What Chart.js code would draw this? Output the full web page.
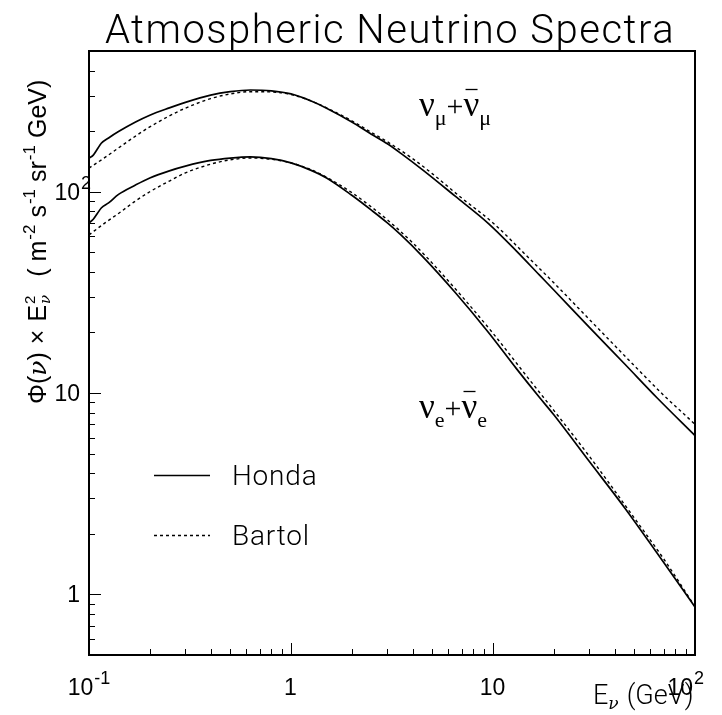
<!DOCTYPE html>
<html>
<head>
<meta charset="utf-8">
<script src="https://cdn.jsdelivr.net/npm/chart.js@4"></script>
<style>
  body { margin: 0; background: #fff; }
  canvas { display: block; }
</style>
</head>
<body>
<canvas id="c" width="722" height="715"></canvas>
<script>
// energies (GeV) and E^2-weighted fluxes
const hondaE = [0.1, 0.105, 0.11, 0.115, 0.125, 0.14, 0.17, 0.2, 0.25, 0.3, 0.4, 0.5, 0.63, 0.8, 1.0, 1.25, 1.5, 2.0, 2.5, 3.0, 3.5, 4.5, 6.5, 9.5, 13, 17, 20, 30, 45, 65, 100];
const hondaNuMu = [147, 152, 163, 174, 185, 199, 222, 240, 261, 278, 302, 314, 320, 317, 306, 283, 260, 222, 193, 173, 155, 128, 95, 69.5, 51, 38.5, 32.5, 21.2, 13.9, 9.45, 6.15];
const hondaNuE = [70, 73, 78, 83, 88, 97, 108, 117, 127, 134, 143, 147, 149, 146, 139, 128, 117, 96, 81, 70, 61, 47.5, 31.6, 20.0, 13.3, 9.5, 7.8, 4.57, 2.68, 1.6, 0.865];

const bartolE = [0.1, 0.12, 0.14, 0.17, 0.2, 0.25, 0.3, 0.4, 0.5, 0.63, 0.8, 1.0, 1.25, 1.5, 2.0, 2.5, 3.0, 4.0, 5.0, 7.0, 10, 15, 20, 30, 50, 70, 100];
const bartolNuMu = [131, 148, 165, 189, 210, 238, 260, 290, 306, 314, 313, 304, 283, 261, 225, 197, 177, 146, 123, 93, 70, 47, 35.3, 23.2, 13.7, 9.75, 7.0];
const bartolNuE = [61, 70, 78, 90, 100, 113, 124, 137, 144, 147, 145, 139, 129, 118, 99, 84, 72.5, 55.8, 44.2, 30.3, 19.8, 11.8, 8.2, 4.85, 2.4, 1.5, 0.87];

const xTicks = [0.1, 1, 10, 100];
const xTickText = [['10', '-1'], ['1', ''], ['10', ''], ['10', '2']];
const yTicks = [1, 10, 100];
const yTickText = [['1', ''], ['10', ''], ['10', '2']];

const SANS = '"Liberation Sans", Arial, sans-serif';
const THIN = 'Roboto, "Open Sans", sans-serif';
const SERIF = '"Liberation Serif", "Times New Roman", serif';
const GREEK = '"DejaVu Serif", serif';

function pts(xs, ys) {
    return xs.map((x, i) => ({ x: x, y: ys[i] }));
}

// draws a list of text runs left to right, returns the end x
function drawRuns(ctx, runs, x, y) {
    runs.forEach(r => {
        ctx.font = r.font;
        ctx.fillText(r.t, x, y + (r.dy || 0));
        if (!r.stay) x += ctx.measureText(r.t).width + (r.gap || 0);
    });
    return x;
}

function runsWidth(ctx, runs) {
    let w = 0;
    runs.forEach(r => {
        ctx.font = r.font;
        if (!r.stay) w += ctx.measureText(r.t).width + (r.gap || 0);
    });
    return w;
}

function powRuns(base, exp) {
    const runs = [{ t: base, font: '23px ' + SANS, gap: 1 }];
    if (exp) runs.push({ t: exp, font: '18px ' + SANS, dy: -11 });
    return runs;
}

function nuLabel(ctx, flavour, x, y) {
    let e = drawRuns(ctx, [
        { t: 'ν', font: '35px ' + SERIF },
        { t: flavour, font: '22px ' + SERIF, dy: 9 },
        { t: '+', font: '30px ' + SERIF }
    ], x, y);
    ctx.beginPath();
    ctx.moveTo(e + 2, y - 26.5);
    ctx.lineTo(e + 14, y - 26.5);
    ctx.stroke();
    drawRuns(ctx, [
        { t: 'ν', font: '35px ' + SERIF },
        { t: flavour, font: '22px ' + SERIF, dy: 9 }
    ], e, y);
}

const frame = {
    id: 'frame',
    afterDraw(chart) {
        const ctx = chart.ctx;
        const a = chart.chartArea;
        const sx = chart.scales.x;
        const sy = chart.scales.y;
        ctx.save();
        ctx.strokeStyle = '#000';
        ctx.fillStyle = '#000';
        ctx.lineWidth = 2;
        ctx.strokeRect(a.left, a.top, a.right - a.left, a.bottom - a.top);

        // inward tick marks
        ctx.lineWidth = 1;
        ctx.beginPath();
        [0.1, 1, 10].forEach(d => {
            for (let m = 1; m <= 9; m++) {
                const px = Math.round(sx.getPixelForValue(m * d)) + 0.5;
                const len = m === 1 ? 12 : 6;
                ctx.moveTo(px, a.bottom);
                ctx.lineTo(px, a.bottom - len);
            }
        });
        [0.1, 1, 10, 100].forEach(d => {
            for (let m = 1; m <= 9; m++) {
                const v = m * d;
                if (v < 0.5 || v > 500) continue;
                const py = Math.round(sy.getPixelForValue(v)) + 0.5;
                const len = m === 1 ? 12 : 6;
                ctx.moveTo(a.left, py);
                ctx.lineTo(a.left + len, py);
            }
        });
        ctx.stroke();

        // tick labels
        ctx.textBaseline = 'alphabetic';
        ctx.textAlign = 'left';
        xTicks.forEach((v, i) => {
            const runs = powRuns(xTickText[i][0], xTickText[i][1]);
            const w = runsWidth(ctx, runs);
            let x0 = sx.getPixelForValue(v) - w / 2;
            if (x0 + w > 704) x0 = 704 - w;
            drawRuns(ctx, runs, x0, 695);
        });
        yTicks.forEach((v, i) => {
            ctx.font = '23px ' + SANS;
            const wb = ctx.measureText(yTickText[i][0]).width;
            drawRuns(ctx, powRuns(yTickText[i][0], yTickText[i][1]), 80 - wb, sy.getPixelForValue(v) + 8);
        });

        // title
        ctx.font = '300 40px ' + THIN;
        ctx.letterSpacing = '1.5px';
        ctx.textAlign = 'center';
        ctx.fillText('Atmospheric Neutrino Spectra', 390, 43);
        ctx.textAlign = 'left';
        ctx.letterSpacing = '0px';

        // x axis title
        drawRuns(ctx, [
            { t: 'E', font: '300 27px ' + THIN },
            { t: 'ν', font: 'italic 17px ' + GREEK, dy: 5, gap: 8 },
            { t: '(GeV)', font: '300 27px ' + THIN }
        ], 593, 704);

        // y axis title, rotated
        ctx.save();
        ctx.translate(46, 404);
        ctx.rotate(-Math.PI / 2);
        drawRuns(ctx, [
            { t: 'Φ(', font: '25px ' + SANS },
            { t: 'ν', font: 'italic 25px ' + GREEK },
            { t: ')', font: '25px ' + SANS, gap: 8 },
            { t: '×', font: '25px ' + SANS, gap: 8 },
            { t: 'E', font: '25px ' + SANS, gap: 1 },
            { t: '2', font: '15px ' + SANS, dy: -11, stay: true },
            { t: 'ν', font: 'italic 15px ' + GREEK, dy: 4, gap: 18 },
            { t: '( m', font: '25px ' + SANS, gap: 1 },
            { t: '-2', font: '17px ' + SANS, dy: -11, gap: 7 },
            { t: 's', font: '25px ' + SANS, gap: 1 },
            { t: '-1', font: '17px ' + SANS, dy: -11, gap: 7 },
            { t: 'sr', font: '25px ' + SANS, gap: 1 },
            { t: '-1', font: '17px ' + SANS, dy: -11, gap: 7 },
            { t: 'GeV)', font: '25px ' + SANS }
        ], 0, 0);
        ctx.restore();

        // curve labels
        ctx.lineWidth = 1.3;
        nuLabel(ctx, 'μ', 419, 116);
        nuLabel(ctx, 'e', 419, 418);

        // legend
        const sets = chart.data.datasets;
        [[sets[0], 475, 'Honda'], [sets[2], 535, 'Bartol']].forEach(item => {
            const ds = item[0];
            ctx.lineWidth = ds.borderWidth;
            ctx.setLineDash(ds.borderDash || []);
            ctx.beginPath();
            ctx.moveTo(154, item[1] + 0.5);
            ctx.lineTo(210, item[1] + 0.5);
            ctx.stroke();
            ctx.setLineDash([]);
            ctx.font = '300 28px ' + THIN;
            ctx.letterSpacing = '0.8px';
            ctx.fillText(item[2], 232, item[1] + 10);
            ctx.letterSpacing = '0px';
        });
        ctx.restore();
    }
};

new Chart(document.getElementById('c'), {
    type: 'line',
    data: {
        datasets: [
            { label: 'Honda', data: pts(hondaE, hondaNuMu), borderColor: '#000', borderWidth: 1.7 },
            { label: 'Honda', data: pts(hondaE, hondaNuE), borderColor: '#000', borderWidth: 1.7 },
            { label: 'Bartol', data: pts(bartolE, bartolNuMu), borderColor: '#000', borderWidth: 1.4, borderDash: [3, 3] },
            { label: 'Bartol', data: pts(bartolE, bartolNuE), borderColor: '#000', borderWidth: 1.4, borderDash: [3, 3] }
        ]
    },
    options: {
        responsive: false,
        animation: false,
        devicePixelRatio: 1,
        layout: { padding: { left: 89, top: 51, right: 27, bottom: 60 } },
        elements: {
            point: { radius: 0 },
            line: { cubicInterpolationMode: 'monotone', fill: false }
        },
        scales: {
            x: { type: 'logarithmic', min: 0.1, max: 100, display: false },
            y: { type: 'logarithmic', min: 0.5, max: 500, display: false }
        },
        plugins: {
            legend: { display: false },
            tooltip: { enabled: false }
        }
    },
    plugins: [frame]
});
</script>
</body>
</html>
